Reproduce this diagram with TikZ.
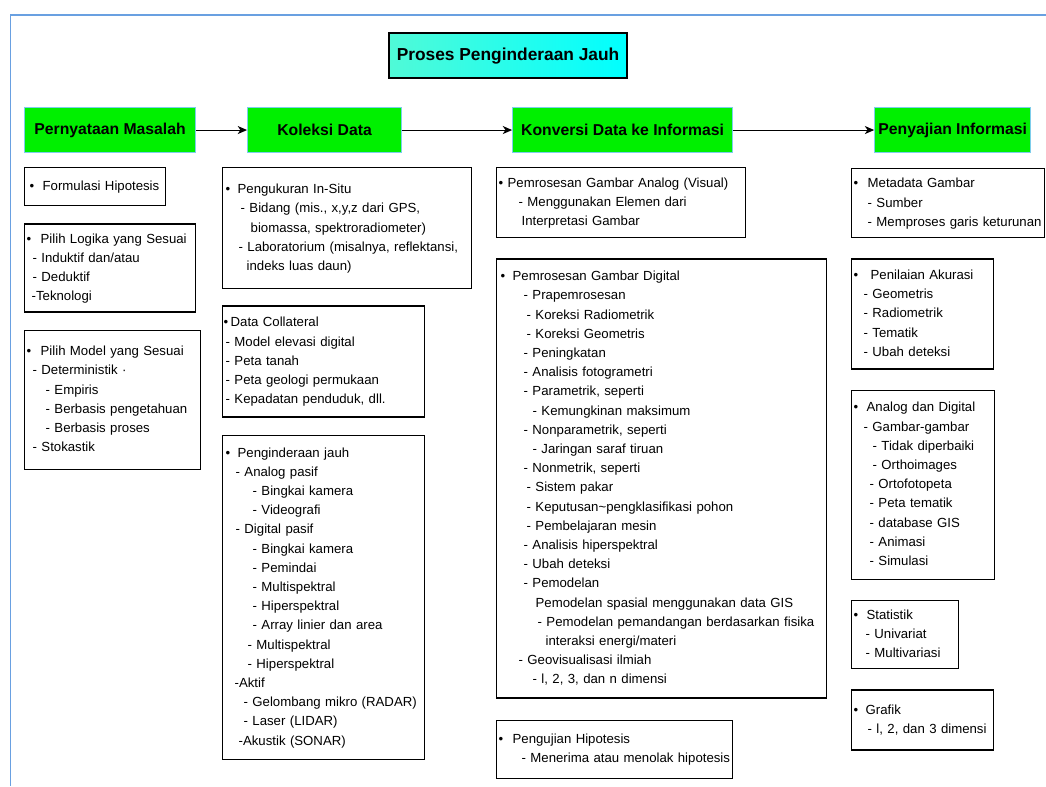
\documentclass[tikz,border=0pt]{standalone}
\usepackage{fontspec}
\setmainfont{Liberation Sans}
\usepackage{tikz}
\usetikzlibrary{shapes, arrows.meta, positioning}

\newdimen\pxu \pxu=0.75pt
\newcommand{\bodyfont}{\fontsize{9.9}{14.4}\selectfont}
\newcommand{\bl}[2]{\rlap{\hspace*{#1\pxu}•}\hspace*{#2\pxu}}
\newcommand{\ind}[1]{\hspace*{#1\pxu}}
\newcommand{\lines}[1]{\begin{tabular}{@{}l@{}}#1\end{tabular}}

\definecolor{headgreen}{RGB}{0,240,0}
\definecolor{headedge}{RGB}{125,205,235}
\definecolor{frameblue}{RGB}{105,160,225}
\definecolor{titleleft}{RGB}{80,250,215}
\definecolor{titlemid}{RGB}{230,255,195}
\definecolor{titleright}{RGB}{0,255,255}

\tikzstyle{titlebox} = [rectangle, draw, line width=1.6pt, left color=titleleft, middle color=titlemid, right color=titleright, font=\fontsize{13}{15}\selectfont\bfseries, minimum width=238\pxu, minimum height=45\pxu, inner sep=0pt, anchor=north west]
\tikzstyle{head} = [rectangle, draw=headedge, fill=headgreen, line width=0.8pt, font=\fontsize{11.8}{14}\selectfont\bfseries, minimum height=45\pxu, inner sep=0pt]
\tikzstyle{topic} = [rectangle, draw, line width=1pt, font=\bodyfont, align=left, inner sep=0pt, anchor=north west]
\tikzstyle{flowline} = [draw, -{Stealth[length=7pt, width=6pt, inset=2pt]}, line width=0.8pt]

\begin{document}
\begin{tikzpicture}[x=0.75pt, y=-0.75pt]
    \useasboundingbox (0,0) rectangle (1046,786);
    \draw[frameblue, line width=1.2pt] (1046,15) -- (10.5,15) -- (10.5,786);

    \node[titlebox] (title) at (388,32) {Proses Penginderaan Jauh};

    % stages
    \node[head, anchor=north west, minimum width=171\pxu] (problem) at (24,107) {Pernyataan Masalah};
    \node[head, right=51\pxu of problem, minimum width=154\pxu] (collect) {Koleksi Data};
    \node[head, right=110\pxu of collect, minimum width=220\pxu] (convert) {Konversi Data ke Informasi};
    \node[head, right=141\pxu of convert, minimum width=156\pxu] (present) {Penyajian Informasi};

    \path[flowline] (problem) -- (collect);
    \path[flowline] (collect) -- (convert);
    \path[flowline] (convert) -- (present);

    % Pernyataan Masalah
    \node[topic, text width=141\pxu, minimum height=38\pxu] (hypo) at (24,167) {\lines{\bl{5}{18}Formulasi Hipotesis}};
    \node[topic, text width=171\pxu, minimum height=88\pxu, below=17\pxu of hypo.south west, anchor=north west] (logic) {\lines{\bl{2}{16}Pilih Logika yang Sesuai\\ \ind{8}- Induktif dan/atau\\ \ind{8}- Deduktif\\ \ind{7}-Teknologi}};
    \node[topic, text width=176\pxu, minimum height=139\pxu, below=17\pxu of logic.south west, anchor=north west] (model) {\lines{\bl{2}{16}Pilih Model yang Sesuai\\ \ind{8}- Deterministik ·\\ \ind{21}- Empiris\\ \ind{21}- Berbasis pengetahuan\\ \ind{21}- Berbasis proses\\ \ind{8}- Stokastik}};

    % Koleksi Data
    \node[topic, text width=249\pxu, minimum height=121\pxu] (insitu) at (222,167) {\lines{\bl{3}{15}Pengukuran In-Situ\\ \ind{18}- Bidang (mis., x,y,z dari GPS,\\ \ind{28}biomassa, spektroradiometer)\\ \ind{16}- Laboratorium (misalnya, reflektansi,\\ \ind{24}indeks luas daun)}};
    \node[topic, text width=202\pxu, minimum height=111\pxu, below=16\pxu of insitu.south west, anchor=north west] (collat) {\lines{\bl{1}{8}Data Collateral\\ \ind{3}- Model elevasi digital\\ \ind{3}- Peta tanah\\ \ind{3}- Peta geologi permukaan\\ \ind{3}- Kepadatan penduduk, dll.}};
    \node[topic, text width=202\pxu, minimum height=324\pxu, below=17\pxu of collat.south west, anchor=north west] (remote) {\lines{\bl{3}{15}Penginderaan jauh\\ \ind{13}- Analog pasif\\ \ind{30}- Bingkai kamera\\ \ind{30}- Videografi\\ \ind{13}- Digital pasif\\ \ind{30}- Bingkai kamera\\ \ind{30}- Pemindai\\ \ind{30}- Multispektral\\ \ind{30}- Hiperspektral\\ \ind{30}- Array linier dan area\\ \ind{25}- Multispektral\\ \ind{25}- Hiperspektral\\ \ind{12}-Aktif\\ \ind{21}- Gelombang mikro (RADAR)\\ \ind{21}- Laser (LIDAR)\\ \ind{16}-Akustik (SONAR)}};

    % Konversi Data ke Informasi
    \node[topic, text width=249\pxu, minimum height=70\pxu] (visual) at (496,167) {\lines{\bl{2}{11}Pemrosesan Gambar Analog (Visual)\\ \ind{22}- Menggunakan Elemen dari\\ \ind{25}Interpretasi Gambar}};
    \node[topic, text width=330\pxu, minimum height=439\pxu, below=20\pxu of visual.south west, anchor=north west] (digital) {\lines{\bl{4}{16}Pemrosesan Gambar Digital\\ \ind{27}- Prapemrosesan\\ \ind{30}- Koreksi Radiometrik\\ \ind{30}- Koreksi Geometris\\ \ind{27}- Peningkatan\\ \ind{27}- Analisis fotogrametri\\ \ind{27}- Parametrik, seperti\\ \ind{36}- Kemungkinan maksimum\\ \ind{27}- Nonparametrik, seperti\\ \ind{36}- Jaringan saraf tiruan\\ \ind{27}- Nonmetrik, seperti\\ \ind{30}- Sistem pakar\\ \ind{30}- Keputusan\textasciitilde pengklasifikasi pohon\\ \ind{30}- Pembelajaran mesin\\ \ind{27}- Analisis hiperspektral\\ \ind{27}- Ubah deteksi\\ \ind{27}- Pemodelan\\ \ind{39}Pemodelan spasial menggunakan data GIS\\ \ind{41}- Pemodelan pemandangan berdasarkan fisika\\ \ind{49}interaksi energi/materi\\ \ind{22}- Geovisualisasi ilmiah\\ \ind{36}- l, 2, 3, dan n dimensi}};
    \node[topic, text width=236\pxu, minimum height=58\pxu, below=21\pxu of digital.south west, anchor=north west] (testing) {\lines{\bl{2}{16}Pengujian Hipotesis\\ \ind{25}- Menerima atau menolak hipotesis}};

    % Penyajian Informasi
    \node[topic, text width=193\pxu, minimum height=69\pxu] (meta) at (851,168) {\lines{\bl{2}{16}Metadata Gambar\\ \ind{16}- Sumber\\ \ind{16}- Memproses garis keturunan}};
    \node[topic, text width=142\pxu, minimum height=110\pxu, below=20\pxu of meta.south west, anchor=north west] (accur) {\lines{\bl{2}{19}Penilaian Akurasi\\ \ind{12}- Geometris\\ \ind{12}- Radiometrik\\ \ind{12}- Tematik\\ \ind{12}- Ubah deteksi}};
    \node[topic, text width=143\pxu, minimum height=189\pxu, below=20\pxu of accur.south west, anchor=north west] (products) {\lines{\bl{2}{15}Analog dan Digital\\ \ind{12}- Gambar-gambar\\ \ind{21}- Tidak diperbaiki\\ \ind{21}- Orthoimages\\ \ind{18}- Ortofotopeta\\ \ind{18}- Peta tematik\\ \ind{18}- database GIS\\ \ind{18}- Animasi\\ \ind{18}- Simulasi}};
    \node[topic, text width=107\pxu, minimum height=68\pxu, below=20\pxu of products.south west, anchor=north west] (stats) {\lines{\bl{2}{15}Statistik\\ \ind{14}- Univariat\\ \ind{14}- Multivariasi}};
    \node[topic, text width=142\pxu, minimum height=60\pxu, below=20\pxu of stats.south west, anchor=north west] (graphs) {\lines{\bl{2}{14}Grafik\\ \ind{16}- l, 2, dan 3 dimensi}};
\end{tikzpicture}
\end{document}
